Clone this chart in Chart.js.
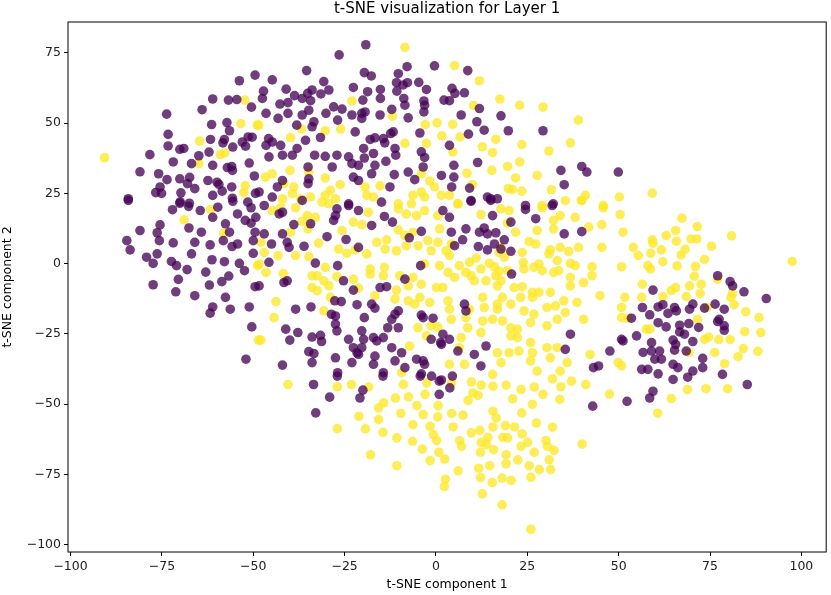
<!DOCTYPE html>
<html>
<head>
<meta charset="utf-8">
<title>t-SNE visualization for Layer 1</title>
<script src="https://cdn.jsdelivr.net/npm/chart.js@4.4.1/dist/chart.umd.min.js"></script>
<style>
  html, body { margin: 0; padding: 0; background: #fff; }
  #wrap { width: 831px; height: 595px; }
</style>
</head>
<body>
<div id="wrap"><canvas id="chart" width="831" height="595"></canvas></div>
<script>
// 图表标题和轴
const chartTitle = 't-SNE visualization for Layer 1';
const xAxisTitle = 't-SNE component 1';
const yAxisTitle = 't-SNE component 2';
const xTickValues = [-100, -75, -50, -25, 0, 25, 50, 75, 100];
const yTickValues = [-100, -75, -50, -25, 0, 25, 50, 75];

// 类别 0 (紫色) - [x, y]
const purplePoints = [
  [-53.8,65.1],[-49.5,67.1],[-61.1,58.6],[-56.8,58.2],[-54.5,58.4],[-64,54.8],[-50.5,55.7],[-73.7,53.2],[-61.4,49.5],[-57.2,50.2],
  [-56.5,47.3],[-73.3,46],[-73.3,41.9],[-70.1,40.7],[-69,41],[-61.7,44.2],[-57.9,44.2],[-58.3,43],[-55.6,41.5],[-53,43.3],
  [-51.4,45.1],[-50.3,45],[-52.1,41.8],[-78.3,38.8],[-64.9,38.4],[-62.1,39.7],[-71.9,36.2],[-66.9,35.6],[-61.1,35],[-57.1,34.2],
  [-55.9,34.6],[-55.7,33.2],[-51.1,35.8],[-81,32.7],[-75.9,32],[-73.6,29.9],[-70.1,30.2],[-67.4,30.7],[-68,28.5],[-66,26.7],
  [-62.4,29.6],[-59.9,29],[-59.4,28.2],[-55.9,27.3],[-58.5,25.8],[-49.7,31.2],[-49.4,25],[-75.5,27.3],[-76.7,25.3],[-75.1,25],
  [-69.8,25.2],[-84.2,23.1],[-61.1,24.3],[-55.7,23.3],[-70,22],[-67.5,21.5],
  [-19.2,77.9],[-26.5,74.3],[-35.4,68.7],[-19.6,68],[-17.7,66.8],[-10.3,67.6],[-7.9,70.1],[-0.4,70.4],[-44.8,65.4],[-30.7,64.8],
  [-10.8,64.4],[-9,63.6],[-7.8,64.4],[-4.7,64.5],[-47.2,61.4],[-47.5,58.8],[-41,62.1],[-38.7,59.8],[-36.6,58.8],[-35.1,60.6],
  [-33.9,61.8],[-34.3,58],[-31.5,60.4],[-29.3,61.8],[-22.6,62.7],[-18.7,61.2],[-15.2,62],[-20,58.2],[-15.2,58.8],[-10.7,61.4],
  [-2.6,62],[-3.3,57.9],[-8.8,58.8],[-8.5,56.4],[2.2,58.2],[-42.7,56.8],[-40.5,57.3],[-46.5,53.5],[-43.2,51.7],[-40.5,53.5],
  [-36.6,52.9],[-34.8,54.6],[-33.4,50.5],[-30.1,53.5],[-28,55.8],[-25.7,55],[-26.9,51.1],[-23,52.9],[-20.3,53.5],[-19.4,54],
  [-20.3,51.7],[-15.3,52.9],[-12.1,54.9],[-7.6,51.9],[-3.3,54],[-3.1,56.4],[-38.1,49.3],[-33.9,48.7],[-22.1,46.9],[-11.7,46.9],
  [-12.4,46.3],[-14,43],[-11.2,41],[-18,44.2],[-16.7,44.8],[-14.4,44.5],[-4.4,46.5],[-45.8,44.5],[-44.8,43.3],[-46.5,42.1],
  [-42.5,42.1],[-35.7,43.9],[-31.6,44.9],[-38,41],[-45.7,38],[-42,38.6],[-39.3,38.6],[-33.2,38.6],[-30.3,38.2],[-27.1,38.6],
  [-23.9,38],[-19.8,41],[-19.6,37.6],[-17.1,39.2],[-11,38.6],[-4,39.8],[-3.1,37.8],[-3.5,34.4],[-23,35.6],[-21.2,35],
  [-16.7,35],[-28.4,34.4],[-13.7,36.4],[-35,34.4],[-11.4,31.7],[-7.6,32.6],[-5.8,29.9],[1.5,31.4],[-22.6,30.8],[-21.2,29.6],
  [-17.6,32],[-34.8,30.2],[-35,28.5],[-42,29.6],[-43.4,27.3],[-48.4,25.5],[-12.6,27.3],[-44.8,23.7],[-36.6,22.5],[-23.9,21.3],
  [8.7,68.7],[4.4,62.4],[5.2,60.6],[7.8,60.8],[3.7,58],[11.9,55.2],[6.9,52.9],[11.2,50.5],[13.2,47.5],[8.9,46.1],
  [17.8,52.6],[19.8,47.3],[29.3,47.3],[3.7,42.1],[4.9,35],[4.9,30.8],[4.3,27.3],[9.2,26.9],[11.4,36],[14.1,23.7],
  [15,23.1],[16.8,23.1],[9.6,22.2],[34.2,33.2],[39.9,34.6],[41.3,32.6],[49.9,32.6],[35.1,28.1],[32.1,21.3],[24.5,20.7],
  [77.1,-4.3],[80.5,-6.4],[81.2,-7.9],[84.3,-10],[90.4,-12.4],[59.4,-9.4],[56.5,-15.6],[58.5,-18.2],[60.8,-15.4],[62.1,-14.6],
  [65.3,-15.6],[65.8,-16.8],[69.4,-16.2],[70.3,-14.4],[73.5,-15.8],[76.4,-14.4],[78.9,-16.2],[63.5,-17.7],[60.8,-21],[63,-22.5],
  [66.7,-21.9],[69.2,-21.3],[71.9,-22.7],[77.1,-20.6],[77.5,-19.8],[78.9,-22.1],[78.9,-23.7],[66.7,-24.3],[68,-25.1],[64.9,-27.2],
  [70.3,-27.7],[65.6,-28.7],[59,-28.1],[54.9,-25.7],[56.7,-31.6],[59,-31.1],[61.2,-31.1],[59.9,-34],[61.7,-34],[65.3,-30.8],
  [68.5,-31.1],[73,-33.7],[73,-37],[64.9,-35.8],[66.2,-37],[56.3,-37.6],[58,-37.6],[60.8,-39.2],[68.9,-40.4],[70.3,-38.2],
  [78.4,-39.4],[64.9,-41.2],[85.2,-43],[59.4,-45.4],[58.5,-47.8],
  [-84.2,22.5],[-72.1,19.2],[-70.1,21.5],[-67.7,20.4],[-64.5,18.9],[-59.7,20.1],[-55.6,22.2],[-51.5,21.9],[-50.6,19.9],[-54.3,17.7],
  [-52.2,15.4],[-50.6,14.4],[-49.3,16.5],[-49.5,11.2],[-61.1,16.5],[-57.6,14.2],[-56.5,11.2],[-67.6,12.7],[-64.2,11.2],[-75.5,13.8],
  [-81,11.8],[-76.3,11],[-75.7,8.2],[-84.6,8.2],[-83.7,4.9],[-71.9,7.4],[-66,7.6],[-61.8,6.7],[-58.2,8.2],[-55.8,6.1],
  [-54.3,7],[-50,8.2],[-50,3.7],[-79.2,2.3],[-77.4,0.1],[-76.3,3.5],[-72.4,0.8],[-71,-0.7],[-66.9,3.5],[-68.1,-2.1],
  [-61.3,1.4],[-57.9,0.7],[-53.8,0.1],[-52.4,-2.5],[-63,-3],[-56.7,-4.4],[-58.6,-6.4],[-62,-7.6],[-70.5,-5.6],[-77.4,-7.5],
  [-71.2,-10],[-66,-11.4],[-57.6,-12],[-61.1,-15.4],[-61.8,-17.6],[-56.3,-16.2],[-51.1,-15.4],[-49.5,-8.2],[-50.4,-22.5],[-52,-34],
  [-47,20.7],[-42.9,17.7],[-42,18.3],[-38.9,13.9],[-34.3,14.2],[-27.1,19.5],[-27.5,17.1],[-28,15.4],[-23.9,20.7],[-21.2,18.9],
  [-17.6,13.6],[-14.1,16.8],[-11.9,14.8],[-14.9,21.9],[-47,10.6],[-42,10.6],[-40.7,7.6],[-40.2,5.8],[-45,7],[-45.7,0.5],
  [-36.1,6.2],[-33,0.2],[-29.8,9.6],[-26.9,-0.7],[-24.6,8.6],[-21.2,5.8],[-7.3,9.2],[-4,11.5],[-4.2,-0.7],[1.9,18.9],
  [-41.6,-6.7],[-40.7,-6.1],[-48.4,-7.9],[-25.3,-6.1],[-22.6,-9.4],[-15.3,-8.5],[-13.5,-8.2],[-8.5,-5.5],[-38.4,-16.2],[-34.2,-15.4],
  [-28.6,-18],[-27.5,-18.6],[-25.9,-13.5],[-27.7,-13.2],[-21.6,-14.6],[-17.6,-14.4],[-16.7,-15.8],[-19.6,-19.2],[-12.1,-19.8],[-11.2,-18],
  [-10.3,-16.8],[-4,-18.3],[-3.5,-19.2],[-0.8,-19.4],[1.9,-25.1],[1.5,-28.7],[-41.1,-23.3],[-37.8,-24.5],[-40,-27.2],[-33.9,-26.1],
  [-31.6,-25.5],[-31.3,-27.7],[-27.5,-21.5],[-27.1,-23.9],[-23.9,-26.9],[-22.6,-29.9],[-21.6,-31.7],[-20.3,-29.9],[-20.3,-23.9],[-19.8,-26.9],
  [-17.1,-26.3],[-16.2,-27.5],[-14.4,-26.3],[-13.2,-22.8],[-10.3,-22.8],[-12.1,-29.9],[-9.4,-31.7],[-5.3,-34],[-3.5,-34.6],[-1.3,-26.9],
  [1.3,-28.1],[-33.4,-32],[-34.8,-31.3],[-27.5,-33.5],[-23,-35.2],[-21.2,-32.3],[-16.7,-32.9],[-17.1,-35.8],[-11.2,-34.6],[-8.5,-37],
  [-3.1,-35.8],[-42,-36.1],[-33.9,-35.2],[-26.9,-38.8],[-14.4,-38.8],[-4,-39.2],
  [9.6,22.5],[15,22.5],[24.5,19.3],[27.3,16],[31.8,20.7],[35.1,10.6],[39.9,11.4],[20.5,14.8],[15.5,17.1],[8.2,12.4],
  [11.9,11.2],[13.2,12.7],[14.1,10.6],[16.4,11],[18.7,8.5],[7.3,8.5],[5.1,6.4],[11.6,6.1],[14.1,4.9],[16,7],
  [17.8,5.2],[20.5,4.4],[4.2,11.2],[3.7,16.5],[20.7,-3.7],[7.8,-14.4],[8.2,-16.8],[36.8,-25.1],[35.4,-30.5],[43.1,-37],
  [47.6,-31.1],[50.8,-26.9],[53.5,-19.4],[3.7,-26.9],[10.5,-32.3],[13.7,-29.3],[6,-31.1],[12.3,-36.4],[44.5,-36.4],[51.2,-27.5],
  [42.9,-50.7],[-33.5,-43],[-29.1,-47.5],[-32.9,-53.1],[-20.8,-47.8],[-20,-45],[-27,-40],[-14.5,-40],[0.9,-46.5],[0.9,-41.8],
  [1.5,-41.4],[3.8,-44.2],[-4.3,-40],[-1.2,-40],[4.5,-40],[52.3,-49]
];

// 类别 1 (黄色) - [x, y]
const yellowPoints = [
  [-52.3,58.2],[-53.4,49.8],[-48.9,49.3],[-64.7,43.6],[-90.7,37.7],[-59,38.8],[-57.8,39.4],[-64.9,35.6],[-52.2,27.8],[-52.6,25.3],
  [-8.5,77],[-23,57.9],[-11.9,52.5],[0.3,50.1],[-2.9,49.5],[1.6,45.5],[-36.8,47.9],[-30.3,47.3],[-26.1,47.9],[-39.8,44.9],
  [-8.5,42.8],[-2.6,42.8],[-48.5,49.3],[-39.9,33.2],[-34.8,32.6],[-44.8,32],[-46.7,30.8],[-30.3,30.5],[-4,32],[-1.7,29.4],
  [-0.4,27.3],[-41.6,28.5],[-38.9,27.3],[-39.3,24.9],[-26.2,28.1],[-28.9,26.1],[-30.3,24.3],[-19.4,27.3],[-15.3,27.7],[-18.9,24.3],
  [-17.1,23.7],[-6.3,24.3],[-4,25.5],[-3.1,23.7],[1.5,24.3],[-37,23.1],[-34.3,23.7],[-27.5,23.1],[-42,23.1],[-10.3,21.3],[-6.7,21.3],
  [5.1,70.5],[11.9,65.1],[17.5,58.6],[22.9,56.4],[29.3,55.7],[10.3,56.3],[39,51.1],[4.6,49.6],[6.6,45.1],[16.4,44.2],
  [23.5,42.4],[30.9,40.1],[36.8,43],[12.7,41.6],[15.5,39.5],[4.6,39.8],[19.6,34.6],[22.9,36.2],[15.3,33.2],[8.5,32.2],
  [21.8,30.5],[27.7,31.4],[10,28.2],[19.8,26.7],[20.9,26.4],[23.5,25.8],[31.6,26.3],[40.9,24.3],[39.8,22.5],[50.2,23.7],
  [35.4,22.4],[3.7,24.3],[6,21.3],[29.1,20.7],[45.8,20.7],
  [59.2,25.1],[67.3,16.2],[71.5,13.2],[65.6,11.8],[63,10],[59.2,8.5],[59.4,7.3],[65.8,8],[69.8,8.8],[71.4,8.8],
  [80.9,9.9],[75.4,6.2],[68.2,5.1],[67.1,3.1],[61.7,4.9],[58.8,3.7],[55.4,2.9],[62.1,0.7],[73.5,1.5],[71,-1],
  [66,-0.8],[58,-0.7],[58.7,-1.9],[97.5,0.8],[70.7,-4.5],[77.1,-5.5],[72.6,-7.3],[69.4,-7.9],[65.6,-8.5],[64.4,-9.6],
  [56.5,-7.3],[56.3,-12],[62.1,-11.7],[68.5,-11.7],[72.3,-10.6],[81.2,-10.6],[81.6,-14.6],[80.7,-12],[84.8,-17.1],[88.4,-19.2],
  [84.5,-24.2],[88.9,-24.5],[84.1,-30.2],[88.1,-31.2],[82.7,-33.1],[79,-35.6],[76.3,-31.6],[80.5,-27],[77.4,-27],[73.5,-26.9],
  [74.6,-26.1],[71.6,-19.8],[74.2,-15.6],[57.6,-23.3],[58.5,-23.3],[69.2,-31.6],[68.8,-44.8],[73.9,-44.5],[79.8,-44.5],[64.4,-48],
  [-68.9,15.6],[-61.7,19.3],[-58.1,10.8],[-48.8,-0.7],[-48.6,-27.2],
  [-44.8,18.9],[-42.5,19.9],[-38.4,19.9],[-31.2,21.9],[-29.3,21.3],[-18.5,18.3],[-10.3,19.5],[-8.1,17.7],[-5.3,17.1],[-3.1,18.9],
  [0.5,17.1],[-35.2,17.1],[-33,16.5],[-36.6,15.1],[-35,12.4],[-39.8,11.2],[-22.6,14.8],[-20.3,13.9],[-25.7,11.8],[-16.2,7.6],
  [-13.5,8.5],[-10.3,12],[-8.5,10],[-6.3,11.2],[-4.9,6.4],[-2.2,8.2],[0.5,7.6],[1,12.4],[-47.9,7.6],[-47,4],
  [-43.2,2.9],[-38.4,2.9],[-34.8,2.5],[-32.1,7.3],[-26.6,5.2],[-24.4,3.7],[-22.1,4.9],[-18.9,3.5],[-13.9,5.2],[-10.8,4.6],
  [-8.1,6.4],[-1.3,4.6],[-3.1,-0.1],[1,-0.7],[2.8,4.6],[-48.4,-0.1],[-46.5,-3.1],[-41.8,-3.5],[-30.3,-1.3],[-33.9,-4.3],
  [-32.5,-4.3],[-30.7,-6.1],[-29.3,-7.9],[-27.1,-4.6],[-22.6,-5.5],[-21.2,-8.7],[-18,-1.9],[-14.1,-1.3],[-18,-3.7],[-14.4,-4.3],
  [-9.9,-4.3],[-6.3,-4.9],[-4,-7.3],[-10.8,-9.4],[-7.6,-7.9],[-7.6,-13.2],[-5.8,-14.4],[-4.4,-12],[-1.7,-13.8],[0.1,-8.5],
  [1.9,-8.5],[-33.9,-8.5],[-32.5,-9.6],[-28.9,-12],[-16.7,-11.4],[-11.2,-12.6],[-1.3,-22.1],[-4.9,-22.8],[-2.6,-25.7],[0.5,-22.5],
  [-7.2,-29.3],[-43.8,-13.5],[-44.3,-19.2],[-47.9,-27.2],[-30.7,-16.8],[-9.4,-38.8],
  [6,21.3],[12.3,17.5],[17.8,19.5],[20,18.9],[29.1,19.9],[34,17.1],[32.2,15.4],[32.2,12.4],[38.1,16.5],[39.9,22.5],
  [45.8,19.9],[50.4,17.5],[45.4,13.9],[51.2,11.2],[41.8,13],[19.6,14.4],[21.8,11.2],[27.7,11.8],
  [25.5,7.9],[27.3,7],[23.6,4],[30.9,3.5],[31.3,4.9],[34,5.8],[36.3,4.4],[39,5.8],[45.4,5.8],[54,5.8],
  [17.8,5.8],[17.3,4],[18.7,2.3],[4.2,7],[3.7,2.9],[6.4,-0.7],[9.2,0.5],[11,2],[14.6,0.1],[16,-1.1],
  [17.3,-2.7],[19.6,-2.5],[23.9,0.5],[24.1,-1.9],[26.8,-1.3],[28.2,-0.1],[29.1,-2.5],[32.2,-3.1],[33.6,-2.5],[33.2,1.1],
  [36.8,0.1],[38.1,-0.7],[42.7,-1.1],[50.8,-1.1],[3.3,-3.1],[5.1,-4.9],[8.2,-3.1],[9.6,-4.3],[12.3,-1.9],[10.5,-6.1],
  [13.7,-6.1],[16.4,-4.3],[17.8,-6.1],[16.8,-7.9],[21.4,-8.5],[23.6,-8.2],[26.4,-10.2],[28.2,-10.2],[31.3,-10.2],[36.8,-4.9],
  [36.8,-7.9],[40.4,-6.7],[42.7,-4.3],[44.9,-11.4],[51.7,-12],[50.8,-15.6],[50.8,-19.2],[52.6,-19.4],
  [3.3,-13.2],[3.7,-16.2],[9.2,-16.2],[12.8,-12],[13.2,-15.6],[16.8,-14.4],[18.2,-12],[20.5,-14.4],[23.2,-12],[26.4,-12],
  [16.8,-16.2],[24.1,-16.8],[26.8,-18],[30.4,-15.6],[32.7,-15],[35,-13.2],[38.6,-13.8],[40.4,-19.8],[35.4,-17.4],[33.2,-19.8],
  [30.4,-22.1],[25.9,-21],[20.5,-22.8],[18.2,-20.4],[15.5,-19.8],[12.8,-20.4],[8.7,-22.8],[8.2,-19.2],[4.2,-19.8],[22.3,-23.3],
  [20.5,-25.7],[22.3,-26.3],[12.3,-24.5],[6.9,-26.3],[6.4,-29.9],[3.7,-35.8],[7.8,-35.8],[16.8,-31.7],[20,-31.7],[22.7,-31.1],
  [25.9,-28.1],[26.4,-31.7],[30.4,-29.9],[31.3,-33.5],[25.9,-34.6],[27.7,-38.2],[17.8,-35.2],[15.5,-39.4],[42.2,-32.3],[33.2,-29.9],
  [35.9,-35.2],[34,-38.2],[49.9,-35.2],[50.8,-36.4],
  [-27,-43.8],[-23.1,-43],[-18.4,-43.9],[-8.9,-43],[-2.5,-42.4],[4.3,-42.4],[9.7,-42.1],[12.4,-43.2],[15.6,-43.6],[19.2,-43.2],
  [23.3,-44.8],[26.9,-43.9],[31.9,-41],[34.2,-43.8],[37.1,-41.8],[41,-43],[-15.7,-51.3],[-14.3,-49.5],[-11.1,-47.8],[-7.5,-47.4],
  [-3,-46.5],[0.6,-50.5],[8.8,-48.6],[11.5,-46.9],[10.1,-46],[21,-48.1],[26.4,-50.1],[29.3,-46.5],[33.9,-48.3],[-21.1,-54.3],
  [-15.7,-55.5],[-9.6,-53.3],[-5.2,-50.5],[-3.5,-53.7],[0.5,-54.5],[4.3,-53.3],[7.4,-53.9],[15.6,-52.5],[16.5,-54.9],[23.5,-53.1],
  [27.5,-56.7],[31.9,-58.2],[-27,-58.7],[-19.3,-58.8],[-14.5,-60],[-10.7,-62],[-6.3,-57.3],[-1.6,-57.9],[-0.7,-60.8],[0.2,-62.9],
  [4.7,-58.1],[9.7,-60.2],[12,-59.3],[14.2,-61.8],[15.6,-58.1],[19,-57.6],[21.5,-58.1],[18.3,-61.8],[19.6,-62],[23.6,-60.6],
  [25.1,-63.6],[30.1,-62.9],[40,-64.2],[6.5,-63],[7,-65],[12.4,-63.6],[13.8,-64.4],[23.3,-65],[26.9,-67.1],[30.5,-65],
  [32.3,-66.4],[31,-69.8],[31.4,-73.3],[28.3,-73.3],[25.5,-71.9],[22.4,-69.8],[19.2,-68],[19.2,-71.2],[15.8,-66.2],[12.2,-67.1],
  [14.7,-71.9],[11.7,-72.8],[12.2,-76.1],[15.4,-77.9],[18.1,-76.3],[20.6,-77.1],[26,-76],[6.1,-73.7],[2.6,-76.7],[2.3,-79.3],
  [-1.6,-70.1],[0.8,-67.1],[2.4,-69.5],[-3.7,-66],[-6.4,-63.2],[-10.7,-71.9],[-17.9,-68],[12.7,-81.9],[18.1,-85.8],[26,-94.5],
  [47.5,-46.4],[60.7,-53.2],[-40.5,-43]
];

const PURPLE = 'rgba(68, 1, 84, 0.76)';
const YELLOW = 'rgba(253, 231, 37, 0.76)';
const TEXT_FONT = "'DejaVu Sans', sans-serif";

function toPoints(list) {
  return list.map(p => ({ x: p[0], y: p[1] }));
}

// matplotlib 风格的负号
function fmtTick(v) {
  return v < 0 ? '\u2212' + Math.abs(v) : String(v);
}

// 标题和外框
const framePlugin = {
  id: 'frame',
  afterDraw(chart) {
    const { ctx, chartArea: a } = chart;
    ctx.save();
    ctx.strokeStyle = '#000';
    ctx.lineWidth = 1;
    ctx.strokeRect(a.left, a.top, a.right - a.left, a.bottom - a.top);
    ctx.fillStyle = '#000';
    ctx.font = '15px ' + TEXT_FONT;
    ctx.textAlign = 'center';
    ctx.textBaseline = 'middle';
    ctx.fillText(chartTitle, (a.left + a.right) / 2, 9);
    ctx.restore();
  }
};

const axisCommon = {
  type: 'linear',
  border: { display: false },
  grid: {
    display: true,
    drawOnChartArea: false,
    drawTicks: true,
    tickLength: 4,
    tickColor: '#000',
    color: '#000'
  },
  ticks: {
    color: '#222',
    font: { family: TEXT_FONT, size: 12.5 },
    padding: 3,
    autoSkip: false,
    maxRotation: 0,
    callback: v => fmtTick(v)
  }
};

new Chart(document.getElementById('chart'), {
  type: 'scatter',
  data: {
    datasets: [
      {
        label: 'class 0',
        data: toPoints(purplePoints),
        backgroundColor: PURPLE,
        borderWidth: 0,
        pointRadius: 4.8,
        pointHoverRadius: 4.8
      },
      {
        label: 'class 1',
        data: toPoints(yellowPoints),
        backgroundColor: YELLOW,
        borderWidth: 0,
        pointRadius: 4.8,
        pointHoverRadius: 4.8
      }
    ]
  },
  options: {
    responsive: false,
    animation: false,
    layout: { padding: { top: 22, right: 2, left: 0, bottom: 0 } },
    plugins: {
      legend: { display: false },
      title: { display: false },
      tooltip: { enabled: false }
    },
    scales: {
      x: {
        ...axisCommon,
        min: -100.7,
        max: 106.8,
        afterBuildTicks: s => { s.ticks = xTickValues.map(v => ({ value: v })); },
        afterFit: s => { s.height = 43; },
        title: {
          display: true,
          text: xAxisTitle,
          color: '#000',
          font: { family: TEXT_FONT, size: 12.5 },
          padding: { top: 0, bottom: 2.5 }
        }
      },
      y: {
        ...axisCommon,
        min: -102.6,
        max: 86.0,
        afterBuildTicks: s => { s.ticks = yTickValues.map(v => ({ value: v })); },
        afterFit: s => { s.width = 68; },
        title: {
          display: true,
          text: yAxisTitle,
          color: '#000',
          font: { family: TEXT_FONT, size: 12.5 },
          padding: { top: 0.5, bottom: 0 }
        }
      }
    }
  },
  plugins: [framePlugin]
});
</script>
</body>
</html>
